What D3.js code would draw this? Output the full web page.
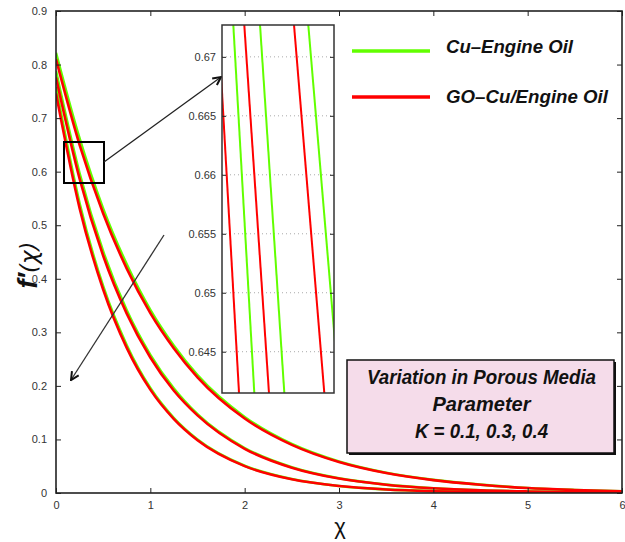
<!DOCTYPE html>
<html>
<head>
<meta charset="utf-8">
<script src="https://cdn.jsdelivr.net/npm/d3@7"></script>
<style>
  html, body { margin: 0; padding: 0; background: #fff; }
  svg { display: block; }
  text { font-family: "Liberation Sans", Arial, Helvetica, sans-serif; }
</style>
</head>
<body>
<svg id="chart" width="625" height="542"></svg>
<script>
// Similarity variable and velocity profiles f'(chi) for three porous-media parameters
const chi = [0, 0.25, 0.5, 0.75, 1, 1.25, 1.5, 2, 2.5, 3, 3.5, 4, 4.5, 5, 5.5, 6];
const kValues = [0.1, 0.3, 0.4];

// Cu–Engine Oil, one row per K
const cuEngineOil = [
  [0.822, 0.662, 0.531, 0.427, 0.342, 0.275, 0.220, 0.142, 0.0915, 0.0589, 0.0379, 0.0245, 0.0157, 0.0094, 0.0057, 0.0032],
  [0.788, 0.597, 0.451, 0.341, 0.258, 0.195, 0.147, 0.0840, 0.0480, 0.0274, 0.0157, 0.0090, 0.0051, 0.0029, 0.0017, 0.0009],
  [0.758, 0.541, 0.386, 0.276, 0.196, 0.140, 0.100, 0.0510, 0.0260, 0.0132, 0.0067, 0.0035, 0.0018, 0.0009, 0.0005, 0.0002]
];

// GO–Cu/Engine Oil, one row per K
const goCuEngineOil = [
  [0.810, 0.650, 0.522, 0.419, 0.336, 0.270, 0.216, 0.139, 0.0898, 0.0578, 0.0372, 0.0240, 0.0154, 0.0092, 0.0056, 0.0031],
  [0.776, 0.587, 0.443, 0.335, 0.253, 0.191, 0.145, 0.0826, 0.0472, 0.0269, 0.0154, 0.0088, 0.0050, 0.0029, 0.0016, 0.0009],
  [0.746, 0.532, 0.380, 0.271, 0.193, 0.138, 0.0985, 0.0501, 0.0255, 0.0130, 0.0066, 0.0034, 0.0017, 0.0009, 0.0004, 0.0002]
];

// Magnified view: chi where each profile crosses the top and bottom of the window
const insetF = [0.6727, 0.6415];
const insetChiDomain = [0.08, 0.28];
const insetCu = [[0.1002, 0.1377], [0.1479, 0.1913], [0.2341, 0.2894]];
const insetGO = [[0.0732, 0.1104], [0.1198, 0.1639], [0.2086, 0.2627]];

const xTicks = [0, 1, 2, 3, 4, 5, 6];
const yTicks = [0, 0.1, 0.2, 0.3, 0.4, 0.5, 0.6, 0.7, 0.8, 0.9];
const insetYTicks = [0.645, 0.65, 0.655, 0.66, 0.665, 0.67];

const legendLabels = ["Cu\u2013Engine Oil", "GO\u2013Cu/Engine Oil"];
const noteLines = ["Variation in Porous Media", "Parameter", "K = " + kValues.join(", ")];

const GREEN = "#62ff00";
const RED = "#ff0000";
const AXIS = "#222";

const svg = d3.select("#chart");
const plot = { left: 56, right: 622, top: 11, bottom: 493 };

const x = d3.scaleLinear().domain([0, 6]).range([plot.left, plot.right]);
const y = d3.scaleLinear().domain([0, 0.9]).range([plot.bottom, plot.top]);

const defs = svg.append("defs");
defs.append("clipPath").attr("id", "plotClip")
  .append("rect").attr("x", plot.left).attr("y", plot.top)
  .attr("width", plot.right - plot.left).attr("height", plot.bottom - plot.top);

defs.append("marker")
  .attr("id", "arrowHead").attr("viewBox", "0 0 10 10")
  .attr("refX", 9).attr("refY", 5)
  .attr("markerWidth", 10).attr("markerHeight", 10)
  .attr("markerUnits", "userSpaceOnUse")
  .attr("orient", "auto")
  .append("path").attr("d", "M1,1 L9,5 L1,9")
  .attr("fill", "none").attr("stroke", "#111").attr("stroke-width", 2);

// Profiles
const line = d3.line()
  .x((d, i) => x(chi[i]))
  .y(d => y(d))
  .curve(d3.curveMonotoneX);

const curves = svg.append("g").attr("clip-path", "url(#plotClip)");
curves.selectAll("path.cu").data(cuEngineOil).join("path")
  .attr("class", "cu").attr("d", line)
  .attr("fill", "none").attr("stroke", GREEN).attr("stroke-width", 2.6);
curves.selectAll("path.go").data(goCuEngineOil).join("path")
  .attr("class", "go").attr("d", line)
  .attr("fill", "none").attr("stroke", RED).attr("stroke-width", 2.6);

// Axes frame with inward ticks on all four sides
const axes = svg.append("g");
function styleAxis(g) {
  g.select(".domain").remove();
  g.selectAll(".tick line").attr("stroke", AXIS).attr("stroke-width", 1);
  g.selectAll(".tick text").attr("fill", "#333").attr("font-size", 11);
}
axes.append("g").attr("transform", `translate(0,${plot.bottom})`)
  .call(d3.axisBottom(x).tickValues(xTicks).tickSizeInner(-5).tickSizeOuter(0).tickPadding(8).tickFormat(d3.format("d")))
  .call(styleAxis);
axes.append("g").attr("transform", `translate(0,${plot.top})`)
  .call(d3.axisTop(x).tickValues(xTicks).tickSizeInner(-5).tickSizeOuter(0).tickFormat(""))
  .call(styleAxis);
axes.append("g").attr("transform", `translate(${plot.left},0)`)
  .call(d3.axisLeft(y).tickValues(yTicks).tickSizeInner(-5).tickSizeOuter(0).tickPadding(9).tickFormat(d => d === 0 ? "0" : d3.format(".1f")(d)))
  .call(styleAxis);
axes.append("g").attr("transform", `translate(${plot.right},0)`)
  .call(d3.axisRight(y).tickValues(yTicks).tickSizeInner(-5).tickSizeOuter(0).tickFormat(""))
  .call(styleAxis);
axes.append("rect")
  .attr("x", plot.left).attr("y", plot.top)
  .attr("width", plot.right - plot.left).attr("height", plot.bottom - plot.top)
  .attr("fill", "none").attr("stroke", AXIS).attr("stroke-width", 1.6);

// Axis titles
svg.append("text")
  .attr("x", (plot.left + plot.right) / 2 + 1).attr("y", 534)
  .attr("text-anchor", "middle").attr("font-size", 22).attr("fill", "#111")
  .attr("font-family", "'DejaVu Sans', sans-serif")
  .text("\u03c7");
const yTitle = svg.append("text")
  .attr("transform", "translate(37,265) rotate(-90)")
  .attr("text-anchor", "middle").attr("fill", "#111");
yTitle.append("tspan").attr("font-size", 27).attr("font-weight", "bold").attr("font-style", "italic").text("f\u2032");
yTitle.append("tspan").attr("font-size", 23).attr("font-style", "italic").attr("font-family", "'DejaVu Sans', sans-serif").text("(\u03c7)");

// Zoom window marker on the main plot
svg.append("rect")
  .attr("x", 64).attr("y", 142).attr("width", 40).attr("height", 41)
  .attr("fill", "none").attr("stroke", "#000").attr("stroke-width", 2);
svg.append("line")
  .attr("x1", 104).attr("y1", 162).attr("x2", 221).attr("y2", 77)
  .attr("stroke", "#222").attr("stroke-width", 1.3).attr("marker-end", "url(#arrowHead)");

// Direction of increasing K
svg.append("line")
  .attr("x1", 164).attr("y1", 235).attr("x2", 71).attr("y2", 380)
  .attr("stroke", "#333").attr("stroke-width", 1.3).attr("marker-end", "url(#arrowHead)");

// Inset panel
const inset = { left: 222, right: 334, top: 25, bottom: 393 };
const xi = d3.scaleLinear().domain(insetChiDomain).range([inset.left, inset.right]);
const yi = d3.scaleLinear().domain([insetF[1], insetF[0]]).range([inset.bottom, inset.top]);

defs.append("clipPath").attr("id", "insetClip")
  .append("rect").attr("x", inset.left).attr("y", inset.top)
  .attr("width", inset.right - inset.left).attr("height", inset.bottom - inset.top);

const ig = svg.append("g");
ig.append("rect")
  .attr("x", inset.left).attr("y", inset.top)
  .attr("width", inset.right - inset.left).attr("height", inset.bottom - inset.top)
  .attr("fill", "#fff");

ig.selectAll("line.grid").data(insetYTicks).join("line")
  .attr("class", "grid")
  .attr("x1", inset.left).attr("x2", inset.right)
  .attr("y1", d => yi(d)).attr("y2", d => yi(d))
  .attr("stroke", "#aaa").attr("stroke-width", 1).attr("stroke-dasharray", "1,3");

const insetLine = d3.line().x(d => xi(d[0])).y(d => yi(d[1]));
const toPts = pair => [[pair[0], insetF[0]], [pair[1], insetF[1]]];
const il = ig.append("g").attr("clip-path", "url(#insetClip)");
il.selectAll("path.cu").data(insetCu).join("path")
  .attr("class", "cu").attr("d", d => insetLine(toPts(d)))
  .attr("fill", "none").attr("stroke", GREEN).attr("stroke-width", 2);
il.selectAll("path.go").data(insetGO).join("path")
  .attr("class", "go").attr("d", d => insetLine(toPts(d)))
  .attr("fill", "none").attr("stroke", RED).attr("stroke-width", 2);

ig.append("g").attr("transform", `translate(${inset.left},0)`)
  .call(d3.axisLeft(yi).tickValues(insetYTicks).tickSizeInner(-4).tickSizeOuter(0).tickPadding(6).tickFormat(d => String(+d.toFixed(3))))
  .call(styleAxis);
ig.append("g").attr("transform", `translate(${inset.right},0)`)
  .call(d3.axisRight(yi).tickValues(insetYTicks).tickSizeInner(-4).tickSizeOuter(0).tickFormat(""))
  .call(styleAxis);
ig.append("rect")
  .attr("x", inset.left).attr("y", inset.top)
  .attr("width", inset.right - inset.left).attr("height", inset.bottom - inset.top)
  .attr("fill", "none").attr("stroke", "#333").attr("stroke-width", 1.5);

// Legend
const legendRows = [
  { label: legendLabels[0], color: GREEN, y: 51, base: 53, w: 127 },
  { label: legendLabels[1], color: RED, y: 97, base: 103, w: 162 }
];
const lg = svg.append("g");
legendRows.forEach(r => {
  lg.append("line").attr("x1", 352).attr("x2", 430).attr("y1", r.y).attr("y2", r.y)
    .attr("stroke", r.color).attr("stroke-width", 3.5);
  lg.append("text").attr("x", 446).attr("y", r.base)
    .attr("font-size", 19).attr("font-weight", "bold").attr("font-style", "italic")
    .attr("fill", "#111")
    .attr("textLength", r.w).attr("lengthAdjust", "spacingAndGlyphs")
    .text(r.label);
});

// Annotation box
const note = { x: 347, y: 360, w: 267, h: 93 };
svg.append("rect")
  .attr("x", note.x + 2).attr("y", note.y + 2).attr("width", note.w).attr("height", note.h)
  .attr("fill", "#111");
svg.append("rect")
  .attr("x", note.x).attr("y", note.y).attr("width", note.w).attr("height", note.h)
  .attr("fill", "#f5dcea").attr("stroke", "#111").attr("stroke-width", 1.5);
const noteRows = [
  { text: noteLines[0], base: 384, w: 229 },
  { text: noteLines[1], base: 411, w: 98 },
  { text: noteLines[2], base: 438, w: 133 }
];
noteRows.forEach(r => {
  svg.append("text")
    .attr("x", note.x + note.w / 2 + 1).attr("y", r.base)
    .attr("text-anchor", "middle")
    .attr("font-size", 20).attr("font-weight", "bold").attr("font-style", "italic")
    .attr("fill", "#111")
    .attr("textLength", r.w).attr("lengthAdjust", "spacingAndGlyphs")
    .text(r.text);
});
</script>
</body>
</html>
